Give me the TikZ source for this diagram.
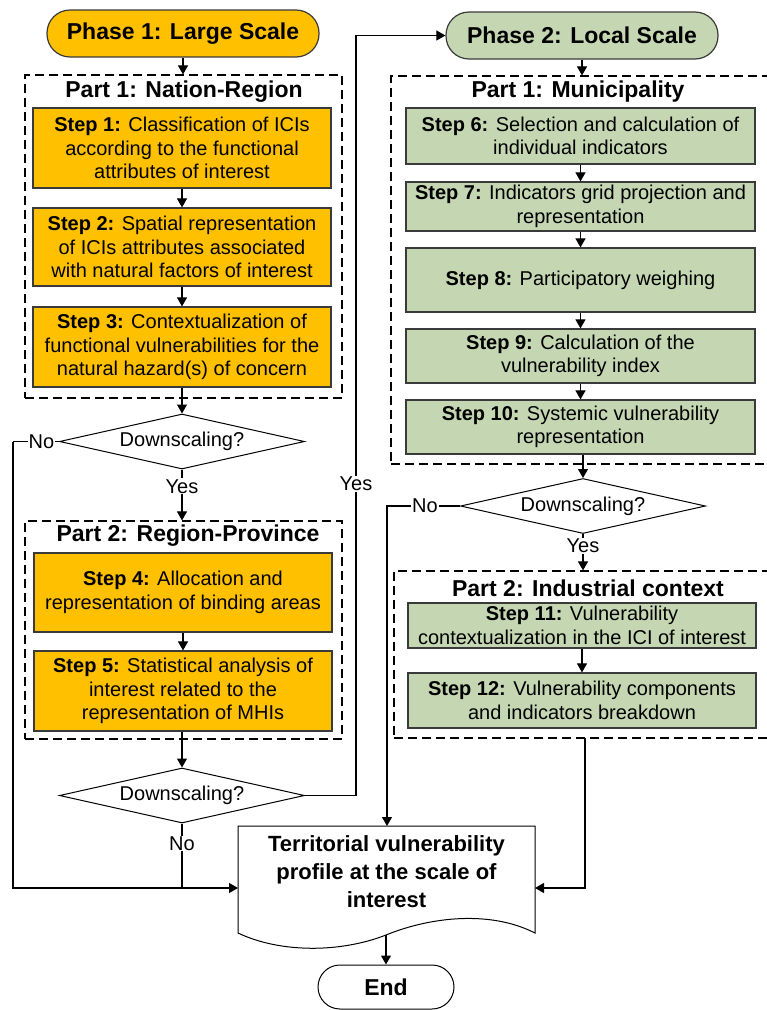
\documentclass[tikz,border=0pt]{standalone}
\usepackage{fontspec}
\setmainfont{Liberation Sans}
\usetikzlibrary{shapes.geometric,arrows.meta}
\definecolor{org}{HTML}{FFC000}
\definecolor{grn}{HTML}{C4D7B2}
\definecolor{edge}{HTML}{3A3A3A}
\begin{document}
\begin{tikzpicture}[x=1pt,y=-1pt,
  line width=1.1pt,
  >={Triangle[length=9pt,width=10pt]},
  pill/.style={draw=edge,line width=1.2pt,rounded corners=23pt,minimum width=272,minimum height=47,inner sep=0,font=\fontsize{23}{27}\selectfont\bfseries},
  stepbox/.style={draw=edge,line width=1.2pt,inner sep=0,align=center,font=\fontsize{20}{23.6}\selectfont},
  orangebox/.style={stepbox,fill=org,minimum width=298},
  greenbox/.style={stepbox,fill=grn,minimum width=349},
  grp/.style={draw=black,dash pattern=on 9pt off 5pt,line width=1.2pt,inner sep=0},
  ttl/.style={font=\fontsize{23}{27}\selectfont\bfseries,inner sep=0},
  dec/.style={draw=black,shape=diamond,aspect=4.45,inner sep=0,minimum width=245,minimum height=55,font=\fontsize{20}{24}\selectfont,line width=1pt},
  lbl/.style={fill=white,inner sep=1pt,font=\fontsize{20}{24}\selectfont},
]
\useasboundingbox (0,0) rectangle (767,1010);

% Phase 1 column
\node[pill,fill=org] (ph1) at (183,33.5) {Phase 1: Large Scale};
\node[grp,minimum width=317,minimum height=323] (g1) at (183.5,236.5) {};
\node[ttl] (t1) at (184,92) {Part 1: Nation-Region};
\node[orangebox,minimum height=80] (s1) at (182,148) {\textbf{Step 1:} Classification of ICIs\\according to the functional\\attributes of interest};
\node[orangebox,minimum height=78] (s2) at (182,247) {\textbf{Step 2:} Spatial representation\\of ICIs attributes associated\\with natural factors of interest};
\node[orangebox,minimum height=80] (s3) at (182,347) {\textbf{Step 3:} Contextualization of\\functional vulnerabilities for the\\natural hazard(s) of concern};
\node[dec] (dm1) at (182,441.5) {Downscaling?};
\node[grp,minimum width=317,minimum height=218] (g2) at (183.5,630) {};
\node[ttl] (t2) at (188,536) {Part 2: Region-Province};
\node[orangebox,minimum height=79] (s4) at (183,592.5) {\textbf{Step 4:} Allocation and\\representation of binding areas};
\node[orangebox,minimum height=80] (s5) at (183,691) {\textbf{Step 5:} Statistical analysis of\\interest related to the\\representation of MHIs};
\node[dec] (dm2) at (182,795.5) {Downscaling?};

% Phase 2 column
\node[pill,fill=grn] (ph2) at (582,35.5) {Phase 2: Local Scale};
\node[grp,minimum width=381,minimum height=388] (g3) at (581.5,270) {};
\node[ttl] (t3) at (578,92) {Part 1: Municipality};
\node[greenbox,minimum height=56] (s6) at (580.5,136) {\textbf{Step 6:} Selection and calculation of\\individual indicators};
\node[greenbox,minimum height=49] (s7) at (580.5,206.5) {\textbf{Step 7:} Indicators grid projection and\\representation};
\node[greenbox,minimum height=64] (s8) at (580.5,280) {\textbf{Step 8:} Participatory weighing};
\node[greenbox,minimum height=54] (s9) at (580.5,356) {\textbf{Step 9:} Calculation of the\\vulnerability index};
\node[greenbox,minimum height=54] (s10) at (580.5,427) {\textbf{Step 10:} Systemic vulnerability\\representation};
\node[dec] (dm3) at (583,506) {Downscaling?};
\node[grp,minimum width=378,minimum height=167] (g4) at (583,654.5) {};
\node[ttl] (t4) at (588,588) {Part 2: Industrial context};
\node[greenbox,minimum height=45,minimum width=348] (s11) at (582,625.5) {\textbf{Step 11:} Vulnerability\\contextualization in the ICI of interest};
\node[greenbox,minimum height=55,minimum width=348] (s12) at (582,700.5) {\textbf{Step 12:} Vulnerability components\\and indicators breakdown};

% Document shape
\node[inner sep=0,align=center,font=\fontsize{22}{28}\selectfont\bfseries] (doc) at (386.5,872) {Territorial vulnerability\\profile at the scale of\\interest};
\draw[line width=1pt,draw=black] (238,933) -- (238,826) -- (535,826) -- (535,933)
  .. controls (490,910) and (430,917) .. (386,935)
  .. controls (340,953) and (280,953) .. (238,933) -- cycle;
\coordinate (docT) at (387,826);
\coordinate (docL) at (238,888);
\coordinate (docR) at (535,888);
\coordinate (docB) at (386,935);
\node[pill,draw=black,line width=1pt,minimum width=136,minimum height=44,rounded corners=22pt] (end) at (386,987) {End};

% helper coordinates
\coordinate (cL1) at (13,441.5);
\coordinate (cL2) at (13,888);
\coordinate (cJ) at (182,888);
\coordinate (cY1) at (356,795.5);
\coordinate (cY2) at (356,35.5);
\coordinate (cN3) at (387,506);
\coordinate (cR1) at (585,738);
\coordinate (cR2) at (585,888);

% connectors left
\draw[->] (ph1.south) -- (ph1.south |- g1.north);
\draw[->] (s1) -- (s2);
\draw[->] (s2) -- (s3);
\draw[->] (s3.south) -- (dm1.north);
\draw (dm1.west) -- node[lbl,pos=0.38] {No} (cL1);
\draw[->] (cL1) -- (cL2) -- (docL);
\draw[->] (dm1.south) -- node[lbl,pos=0.33] {Yes} (dm1.south |- g2.north);
\draw[->] (s4) -- (s5);
\draw[->] (s5.south -| dm2.north) -- (dm2.north);
\draw (dm2.south) -- node[lbl,pos=0.31] {No} (cJ);
\draw[->] (dm2.east) -- (cY1) -- node[lbl,pos=0.41] {Yes} (cY2) -- (ph2.west);

% connectors right
\draw[->] (ph2.south) -- (ph2.south |- g3.north);
\draw[->] (s6) -- (s7);
\draw[->] (s7) -- (s8);
\draw[->] (s8) -- (s9);
\draw[->] (s9) -- (s10);
\draw[->] (s10.south -| dm3.north) -- (dm3.north);
\draw[->] (dm3.west) -- node[lbl,pos=0.48] {No} (cN3) -- (docT);
\draw[->] (dm3.south) -- node[lbl,pos=0.32] {Yes} (dm3.south |- g4.north);
\draw[->] (s11.south -| s12.north) -- (s12.north);
\draw[->] (cR1) -- (cR2) -- (docR);
\draw[->] (docB) -- (end.north);
\end{tikzpicture}
\end{document}
